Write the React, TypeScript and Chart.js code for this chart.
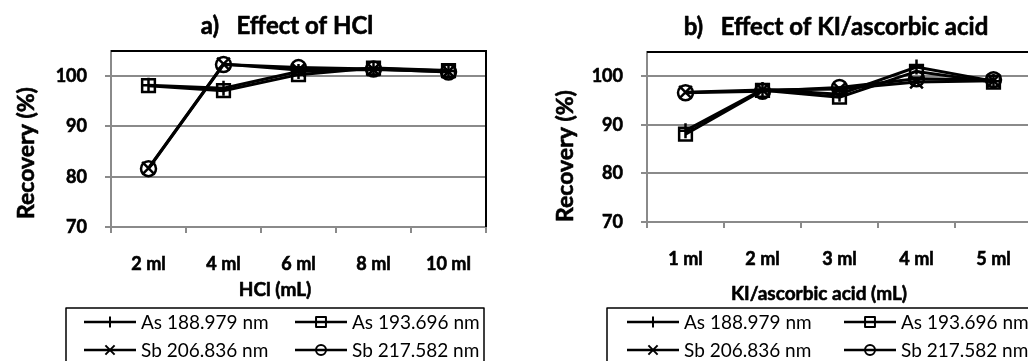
import React, { useEffect, useRef } from 'react';
import { Chart, registerables } from 'chart.js';

Chart.register(...registerables);

const FONT = 'Lato, "Open Sans", sans-serif';
Chart.defaults.font.family = FONT;

// ---- data ----
const SERIES_LABELS = ['As 188.979 nm', 'As 193.696 nm', 'Sb 206.836 nm', 'Sb 217.582 nm'];
const POINT_STYLES = ['cross', 'rect', 'crossRot', 'circle'];

const HCL_CATEGORIES = ['2 ml', '4 ml', '6 ml', '8 ml', '10 ml'];
const HCL_AS_188 = [98.2, 97.6, 100.9, 101.5, 101.0];
const HCL_AS_193 = [98.1, 97.1, 100.3, 101.6, 101.1];
const HCL_SB_206 = [81.7, 102.4, 101.2, 101.3, 100.9];
const HCL_SB_217 = [81.6, 102.3, 101.7, 101.4, 100.8];

const KI_CATEGORIES = ['1 ml', '2 ml', '3 ml', '4 ml', '5 ml'];
const KI_AS_188 = [88.8, 97.3, 96.3, 101.9, 99.0];
const KI_AS_193 = [88.1, 97.1, 95.7, 101.0, 98.8];
const KI_SB_206 = [96.7, 97.2, 97.4, 98.8, 99.1];
const KI_SB_217 = [96.6, 96.9, 97.7, 99.5, 99.3];

const Y_TICKS = [70, 80, 90, 100];
const Y_MIN = 70;
const Y_MAX = 105;

const TITLE_A = 'a)   Effect of HCl';
const TITLE_B = 'b)   Effect of KI/ascorbic acid';
const X_TITLE_A = 'HCl (mL)';
const X_TITLE_B = 'KI/ascorbic acid (mL)';
const Y_TITLE = 'Recovery (%)';

// ---- styling / layout ----
const GRID = '#8a8a8a';
const POINT_RADII = [7.5, 9, 9, 7.5];
const LEGEND_RADII = [5.5, 7, 6.5, 5];
const EMBOLDEN = 0.6;

type Layout = {
  width: number;
  height: number;
  areaLeft: number;
  areaTop: number;
  areaBottom: number;
  padRight: number;
  title: [number, number];
  yTitle: [number, number];
  xTitle: [number, number];
  legendBox: [number, number, number, number];
  legendCols: [number, number];
  legendRows: [number, number];
};

const LAYOUT_A: Layout = {
  width: 514,
  height: 361,
  areaLeft: 111,
  areaTop: 51,
  areaBottom: 227,
  padRight: 28,
  title: [287, 34],
  yTitle: [33.5, 153],
  xTitle: [275, 296],
  legendBox: [66, 308, 418, 70],
  legendCols: [84, 295],
  legendRows: [322, 350],
};

const LAYOUT_B: Layout = {
  width: 540,
  height: 361,
  areaLeft: 133,
  areaTop: 52,
  areaBottom: 222,
  padRight: 22,
  title: [322, 35],
  yTitle: [59, 156],
  xTitle: [305, 300],
  legendBox: [93, 308, 440, 70],
  legendCols: [113, 330],
  legendRows: [322, 350],
};

function drawMarker(ctx: CanvasRenderingContext2D, style: string, x: number, y: number, r: number) {
  ctx.beginPath();
  if (style === 'cross') {
    ctx.moveTo(x, y - r);
    ctx.lineTo(x, y + r);
    ctx.moveTo(x - r, y);
    ctx.lineTo(x + r, y);
  } else if (style === 'crossRot') {
    const d = r * Math.SQRT1_2;
    ctx.moveTo(x - d, y - d);
    ctx.lineTo(x + d, y + d);
    ctx.moveTo(x - d, y + d);
    ctx.lineTo(x + d, y - d);
  } else if (style === 'rect') {
    const s = r * Math.SQRT1_2;
    ctx.rect(x - s, y - s, 2 * s, 2 * s);
  } else {
    ctx.arc(x, y, r, 0, Math.PI * 2);
  }
  ctx.stroke();
}

function boldText(ctx: CanvasRenderingContext2D, text: string, x: number, y: number) {
  ctx.lineWidth = EMBOLDEN;
  ctx.lineJoin = 'round';
  ctx.strokeText(text, x, y);
  ctx.fillText(text, x, y);
}

const decoPlugin = {
  id: 'excelDeco',
  beforeDatasetsDraw(chart: any) {
    const { ctx, chartArea } = chart;
    ctx.save();
    ctx.strokeStyle = '#000';
    ctx.lineWidth = 2;
    ctx.beginPath();
    ctx.moveTo(chartArea.left, chartArea.top);
    ctx.lineTo(chartArea.right, chartArea.top);
    ctx.lineTo(chartArea.right, chartArea.bottom);
    ctx.stroke();
    ctx.restore();
  },
  afterDraw(chart: any, _args: any, opts: any) {
    const ctx: CanvasRenderingContext2D = chart.ctx;
    const L: Layout = opts.layout;
    ctx.save();
    ctx.fillStyle = '#000';
    ctx.strokeStyle = '#000';
    ctx.textBaseline = 'alphabetic';
    ctx.textAlign = 'center';

    // chart title
    ctx.font = `bold 24px ${FONT}`;
    boldText(ctx, opts.title, L.title[0], L.title[1]);

    // x axis title
    ctx.font = `bold 19px ${FONT}`;
    boldText(ctx, opts.xTitle, L.xTitle[0], L.xTitle[1]);

    // y axis title
    ctx.save();
    ctx.translate(L.yTitle[0], L.yTitle[1]);
    ctx.rotate(-Math.PI / 2);
    ctx.font = `bold 23px ${FONT}`;
    boldText(ctx, opts.yTitle, 0, 0);
    ctx.restore();

    // legend
    const [bx, by, bw, bh] = L.legendBox;
    ctx.lineWidth = 1.5;
    ctx.strokeRect(bx, by, bw, bh);
    ctx.font = `19px ${FONT}`;
    ctx.textAlign = 'left';
    ctx.textBaseline = 'middle';
    chart.data.datasets.forEach((ds: any, i: number) => {
      const col = L.legendCols[i % 2];
      const row = L.legendRows[Math.floor(i / 2)];
      ctx.lineWidth = 2.5;
      ctx.beginPath();
      ctx.moveTo(col, row);
      ctx.lineTo(col + 52, row);
      ctx.stroke();
      ctx.lineWidth = 2;
      drawMarker(ctx, POINT_STYLES[i], col + 26, row, LEGEND_RADII[i]);
      ctx.fillText(ds.label, col + 57, row + 1);
    });
    ctx.restore();
  },
};

type Props = {
  categories: string[];
  series: number[][];
  layout: Layout;
  title: string;
  xTitle: string;
};

function RecoveryChart({ categories, series, layout, title, xTitle }: Props) {
  const ref = useRef<HTMLCanvasElement>(null);
  useEffect(() => {
    const tickFont = { family: FONT, size: 18, weight: 'bold' as const };
    const chart = new Chart(ref.current as HTMLCanvasElement, {
      type: 'line',
      data: {
        labels: categories,
        datasets: series.map((d, i) => ({
          label: SERIES_LABELS[i],
          data: d,
          borderColor: '#000',
          borderWidth: 3,
          pointStyle: POINT_STYLES[i] as any,
          pointRadius: POINT_RADII[i],
          pointHoverRadius: POINT_RADII[i],
          pointBorderWidth: 2.5,
          pointBorderColor: '#000',
          pointBackgroundColor: 'rgba(0,0,0,0)',
          fill: false,
          tension: 0,
        })),
      },
      options: {
        responsive: false,
        animation: false,
        events: [],
        layout: { padding: { left: 0, top: layout.areaTop, right: layout.padRight, bottom: 0 } },
        plugins: {
          legend: { display: false },
          tooltip: { enabled: false },
          title: { display: false },
          excelDeco: { layout, title, xTitle, yTitle: Y_TITLE },
        } as any,
        scales: {
          x: {
            type: 'category',
            offset: true,
            grid: {
              offset: true,
              drawOnChartArea: false,
              drawTicks: true,
              tickLength: 6,
              color: GRID,
              lineWidth: 2,
            },
            border: { color: GRID, width: 2 },
            ticks: {
              padding: 20,
              color: '#000',
              font: tickFont,
              maxRotation: 0,
              autoSkip: false,
              textStrokeColor: '#000',
              textStrokeWidth: EMBOLDEN,
            },
            afterFit: (s: any) => {
              s.height = layout.height - layout.areaBottom;
            },
          },
          y: {
            type: 'linear',
            min: Y_MIN,
            max: Y_MAX,
            afterBuildTicks: (s: any) => {
              s.ticks = Y_TICKS.map((v) => ({ value: v }));
            },
            grid: { color: GRID, lineWidth: 2, tickLength: 6, drawTicks: true },
            border: { color: GRID, width: 2 },
            ticks: {
              padding: 18,
              color: '#000',
              font: tickFont,
              textStrokeColor: '#000',
              textStrokeWidth: EMBOLDEN,
            },
            afterFit: (s: any) => {
              s.width = layout.areaLeft;
            },
          },
        },
      },
      plugins: [decoPlugin],
    });
    return () => chart.destroy();
  }, []);
  return (
    <canvas
      ref={ref}
      width={layout.width}
      height={layout.height}
      style={{ width: layout.width, height: layout.height, display: 'block' }}
    />
  );
}

export default function App() {
  return (
    <div
      style={{
        position: 'fixed',
        left: 0,
        top: 0,
        width: 1028,
        height: 361,
        overflow: 'hidden',
        background: '#fff',
      }}
    >
      <div style={{ position: 'absolute', left: 0, top: 0 }}>
        <RecoveryChart
          categories={HCL_CATEGORIES}
          series={[HCL_AS_188, HCL_AS_193, HCL_SB_206, HCL_SB_217]}
          layout={LAYOUT_A}
          title={TITLE_A}
          xTitle={X_TITLE_A}
        />
      </div>
      <div style={{ position: 'absolute', left: 514, top: 0 }}>
        <RecoveryChart
          categories={KI_CATEGORIES}
          series={[KI_AS_188, KI_AS_193, KI_SB_206, KI_SB_217]}
          layout={LAYOUT_B}
          title={TITLE_B}
          xTitle={X_TITLE_B}
        />
      </div>
    </div>
  );
}
